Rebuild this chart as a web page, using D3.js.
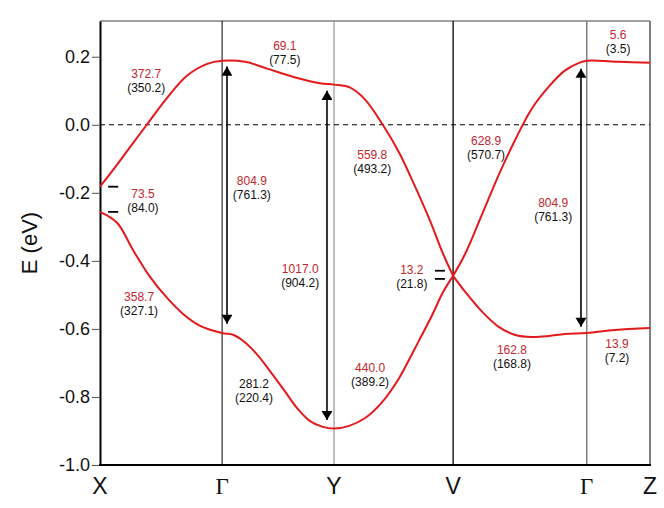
<!DOCTYPE html>
<html>
<head>
<meta charset="utf-8">
<script src="https://cdn.jsdelivr.net/npm/d3@7"></script>
<style>
  body { margin: 0; background: #fff; }
  text { font-family: "Liberation Sans", Arial, sans-serif; }
</style>
</head>
<body>
<svg id="viz"></svg>
<script>
const W = 664, H = 508;
const margin = { top: 21, right: 14, bottom: 43, left: 100 };
const width = W - margin.left - margin.right;
const height = H - margin.top - margin.bottom;

// high-symmetry points along the k path
const kPoints = [0, 0.222, 0.4255, 0.642, 0.885, 1.0];
const kLabels = ['X', 'Γ', 'Y', 'V', 'Γ', 'Z'];
const eTicks = [0.2, 0.0, -0.2, -0.4, -0.6, -0.8, -1.0];

// band dispersion [k, E]
const upperBand = [
  [0, -0.182], [0.027, -0.126], [0.055, -0.065], [0.085, 0.0], [0.122, 0.079],
  [0.158, 0.144], [0.195, 0.179], [0.222, 0.188], [0.264, 0.185], [0.304, 0.165],
  [0.364, 0.135], [0.4, 0.122], [0.4255, 0.118], [0.455, 0.109], [0.482, 0.074],
  [0.513, 0.003], [0.544, -0.082], [0.573, -0.182], [0.6, -0.282], [0.624, -0.38],
  [0.642, -0.444], [0.664, -0.379], [0.695, -0.262], [0.725, -0.147], [0.755, -0.044],
  [0.785, 0.047], [0.816, 0.112], [0.845, 0.159], [0.871, 0.182], [0.885, 0.188],
  [0.945, 0.185], [1.0, 0.182]
];
const lowerBand = [
  [0, -0.256], [0.031, -0.288], [0.06, -0.368], [0.091, -0.447], [0.122, -0.509],
  [0.151, -0.556], [0.182, -0.591], [0.222, -0.612], [0.242, -0.617], [0.26, -0.635],
  [0.285, -0.674], [0.309, -0.724], [0.333, -0.776], [0.358, -0.832], [0.382, -0.871],
  [0.405, -0.888], [0.4255, -0.893], [0.453, -0.885], [0.482, -0.862], [0.513, -0.815],
  [0.544, -0.744], [0.573, -0.656], [0.604, -0.559], [0.624, -0.491], [0.642, -0.444],
  [0.664, -0.491], [0.695, -0.55], [0.725, -0.594], [0.755, -0.618], [0.785, -0.624],
  [0.816, -0.621], [0.845, -0.615], [0.885, -0.612], [0.936, -0.603], [1.0, -0.597]
];

// transitions (arrows)
const arrowK = [0.2309, 0.4127, 0.8745];
const arrowTop = [0.171, 0.1, 0.165];
const arrowBottom = [-0.585, -0.868, -0.594];

// level markers (short bars)
const markK = [0.024, 0.024, 0.618, 0.618];
const markE = [-0.182, -0.256, -0.429, -0.453];

// annotation values
const valTop = ['372.7', '69.1', '73.5', '804.9', '559.8', '628.9', '804.9', '5.6',
  '358.7', '1017.0', '281.2', '13.2', '440.0', '162.8', '13.9'];
const valBottom = ['(350.2)', '(77.5)', '(84.0)', '(761.3)', '(493.2)', '(570.7)', '(761.3)', '(3.5)',
  '(327.1)', '(904.2)', '(220.4)', '(21.8)', '(389.2)', '(168.8)', '(7.2)'];
const valK = [0.084, 0.336, 0.078, 0.276, 0.495, 0.702, 0.824, 0.942,
  0.071, 0.364, 0.28, 0.567, 0.491, 0.749, 0.94];
const valE = [0.15, 0.232, -0.203, -0.165, -0.088, -0.047, -0.229, 0.265,
  -0.506, -0.424, -0.762, -0.426, -0.715, -0.662, -0.644];
const darkTop = ['281.2'];

const svg = d3.select('#viz').attr('width', W).attr('height', H);
const g = svg.append('g').attr('transform', 'translate(' + margin.left + ',' + margin.top + ')');

const x = d3.scaleLinear().domain([0, 1]).range([0, width]);
const y = d3.scaleLinear().domain([-1.0, 0.305]).range([height, 0]);

const red = '#e3191c';
const redText = '#c4262e';

// top + right frame (grey)
g.append('line').attr('x1', 0).attr('x2', width).attr('y1', 0).attr('y2', 0)
  .attr('stroke', '#808080').attr('stroke-width', 1.5);
g.append('line').attr('x1', width).attr('x2', width).attr('y1', 0).attr('y2', height)
  .attr('stroke', '#808080').attr('stroke-width', 2);

// vertical lines at high-symmetry points
const vColor = ['none', '#000', '#808080', '#000', '#808080', 'none'];
const vWidth = [0, 1, 1, 1.3, 1.5, 0];
g.append('g').selectAll('line')
  .data(kPoints)
  .join('line')
  .attr('x1', d => x(d)).attr('x2', d => x(d))
  .attr('y1', 0).attr('y2', height)
  .attr('stroke', (d, i) => vColor[i])
  .attr('stroke-width', (d, i) => vWidth[i]);

// zero line
g.append('line')
  .attr('x1', 0).attr('x2', width)
  .attr('y1', y(0)).attr('y2', y(0))
  .attr('stroke', '#000').attr('stroke-width', 1)
  .attr('stroke-dasharray', '5,4');

// y axis
const yAxis = g.append('g')
  .call(d3.axisLeft(y).tickValues(eTicks).tickFormat(d3.format('.1f')).tickSize(8).tickSizeOuter(0));
yAxis.select('.domain').attr('stroke', '#000').attr('stroke-width', 2);
yAxis.selectAll('.tick line').attr('stroke', '#555').attr('stroke-width', 1);
yAxis.selectAll('.tick text')
  .attr('x', -10)
  .style('font-family', '"Liberation Sans", Arial, sans-serif')
  .style('font-size', '18px')
  .attr('fill', '#111')
  .text(d => d3.format('.1f')(d).replace('−', '-'));

// x axis (bottom line + labels)
g.append('line').attr('x1', -1).attr('x2', width + 1).attr('y1', height).attr('y2', height)
  .attr('stroke', '#000').attr('stroke-width', 2);
g.append('g').selectAll('text')
  .data(kPoints)
  .join('text')
  .attr('x', d => x(d))
  .attr('y', height + 29)
  .attr('text-anchor', 'middle')
  .style('font-size', '23px')
  .style('font-family', (d, i) => kLabels[i] === 'Γ' ? '"Liberation Serif", "DejaVu Serif", serif' : '"Liberation Sans", Arial, sans-serif')
  .attr('fill', '#111')
  .text((d, i) => kLabels[i]);

// y label
svg.append('text')
  .attr('transform', 'translate(37,' + 243 + ') rotate(-90)')
  .attr('text-anchor', 'middle')
  .style('font-size', '22px')
  .attr('fill', '#111')
  .text('E (eV)');

// bands, split at V so the crossing stays sharp
const line = d3.line().x(d => x(d[0])).y(d => y(d[1])).curve(d3.curveCatmullRom.alpha(0.5));
const kV = kPoints[3];
[upperBand, lowerBand].forEach(band => {
  const parts = [band.filter(d => d[0] <= kV), band.filter(d => d[0] >= kV)];
  parts.forEach(p => {
    g.append('path')
      .attr('d', line(p))
      .attr('fill', 'none')
      .attr('stroke', red)
      .attr('stroke-width', 2);
  });
});

// level markers
g.append('g').selectAll('line')
  .data(markK)
  .join('line')
  .attr('x1', d => x(d) - 5).attr('x2', d => x(d) + 5)
  .attr('y1', (d, i) => y(markE[i])).attr('y2', (d, i) => y(markE[i]))
  .attr('stroke', '#000').attr('stroke-width', 1.8);

// arrows
const defs = svg.append('defs');
defs.append('marker')
  .attr('id', 'head')
  .attr('viewBox', '0 0 10 12')
  .attr('refX', 10).attr('refY', 6)
  .attr('markerUnits', 'userSpaceOnUse')
  .attr('markerWidth', 12).attr('markerHeight', 11)
  .attr('orient', 'auto-start-reverse')
  .append('path')
  .attr('d', 'M0,0 L10,6 L0,12 Z')
  .attr('fill', '#000');

g.append('g').selectAll('line')
  .data(arrowK)
  .join('line')
  .attr('x1', d => x(d)).attr('x2', d => x(d))
  .attr('y1', (d, i) => y(arrowTop[i]))
  .attr('y2', (d, i) => y(arrowBottom[i]))
  .attr('stroke', '#000').attr('stroke-width', 1.6)
  .attr('marker-start', 'url(#head)')
  .attr('marker-end', 'url(#head)');

// annotations
const ann = g.append('g').selectAll('g')
  .data(valK)
  .join('g')
  .attr('transform', (d, i) => 'translate(' + x(d) + ',' + y(valE[i]) + ')');
ann.append('text')
  .attr('y', 4)
  .attr('text-anchor', 'middle')
  .style('font-size', '12px')
  .attr('fill', (d, i) => darkTop.includes(valTop[i]) ? '#111' : redText)
  .text((d, i) => valTop[i]);
ann.append('text')
  .attr('y', 18)
  .attr('text-anchor', 'middle')
  .style('font-size', '12px')
  .attr('fill', '#111')
  .text((d, i) => valBottom[i]);
</script>
</body>
</html>
